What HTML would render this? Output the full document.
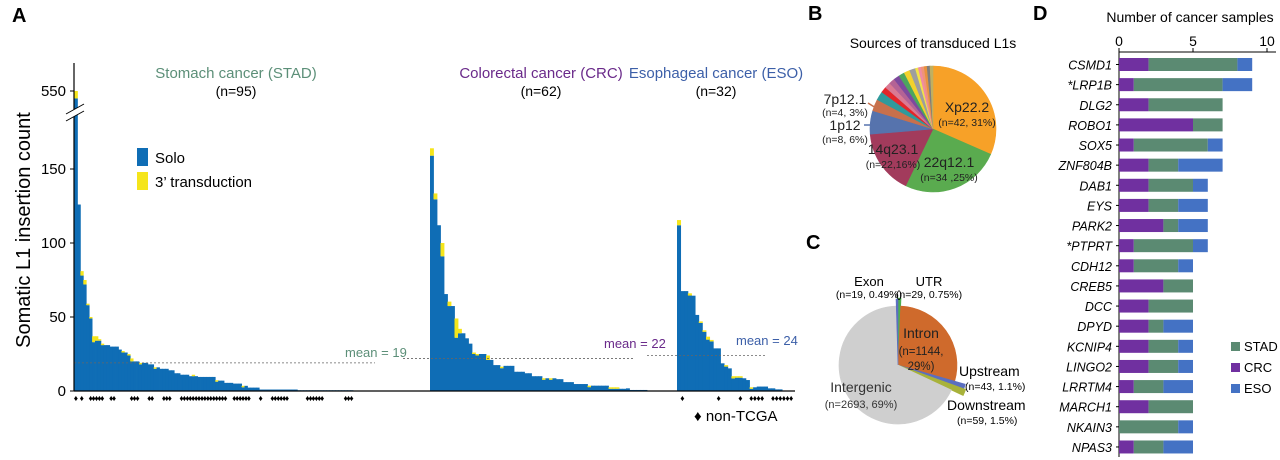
<!DOCTYPE html>
<html><head><meta charset="utf-8">
<style>
html,body{margin:0;padding:0;background:#fff;}
svg{display:block;font-family:"Liberation Sans",sans-serif;}
</style></head>
<body>
<svg id="fig" width="1280" height="460" viewBox="0 0 1280 460" xmlns="http://www.w3.org/2000/svg">
<g id="panelA">
<text x="12" y="22" font-size="20" font-weight="bold">A</text>
<text transform="translate(30,230) rotate(-90)" text-anchor="middle" font-size="20">Somatic L1 insertion count</text>
<text x="236" y="78" text-anchor="middle" font-size="15" fill="#5c8f78">Stomach  cancer (STAD)</text>
<text x="236" y="96" text-anchor="middle" font-size="14">(n=95)</text>
<text x="541" y="78" text-anchor="middle" font-size="15" fill="#6a2a8a">Colorectal cancer (CRC)</text>
<text x="541" y="96" text-anchor="middle" font-size="14">(n=62)</text>
<text x="716" y="78" text-anchor="middle" font-size="15" fill="#3c5fa8">Esophageal cancer (ESO)</text>
<text x="716" y="96" text-anchor="middle" font-size="14">(n=32)</text>
<g>
<rect x="137" y="148" width="11" height="18" fill="#0f6db5"/>
<text x="155" y="163" font-size="15">Solo</text>
<rect x="137" y="172" width="11" height="18" fill="#f5e51b"/>
<text x="155" y="187" font-size="15">3’ transduction</text>
</g>
<g id="barsA"></g>
<g id="axisA"></g>
<text x="694" y="421" font-size="15">♦ non-TCGA</text>
</g>
<g id="panelB">
<text x="808" y="20" font-size="20" font-weight="bold">B</text>
<text x="933" y="48" text-anchor="middle" font-size="14">Sources of transduced L1s</text>
</g>
<g id="panelC">
<text x="806" y="249" font-size="20" font-weight="bold">C</text>
</g>
<g id="panelD">
<text x="1033" y="20" font-size="20" font-weight="bold">D</text>
<text x="1190" y="22" text-anchor="middle" font-size="14">Number of cancer samples</text>
</g>
</svg>
<script>
const NS="http://www.w3.org/2000/svg";
// ---- Panel A data ----
const stadSolo=[545,126,78,72,58,49,33,34,34,31,31,31,30,30,30,28,26,26,24,20,20,20,18,19,19,18,18,15,16,15,15,15,14,14,12,12,11,11,11,10,10,10,9.5,9.5,9.5,9.5,9.5,9.5,6.3,7,7,5.5,5.5,5.5,5,5,5,2.5,3.5,2.3,2.3,2.3,2.3,1,1,1,1,1,1,1,1,1,1,1,1,1,0.5,0.5,0.5,0.5,0.5,0.5,0.5,0.5,0.5,0.5,0.5,0.5,0.5,0.5,0.5,0.5,0.5,0.5,0.5];
const stadTrans=[5,0,3,3,1,1,4,3,1,1,0,0,0,0,0,0,1,0,1,2,0,0,1,0,0,0,0,1,0,0,0,0,0,0,0,0,0,0,0,0,1,0,0,0,0,0,0,0,1,0,0,0,0,0,0,0,0,1,0,0,0,0,0,0,0,0,0,0,0,0,0,0,0,0,0,0,0,0,0,0,0,0,0,0,0,0,0,0,0,0,0,0,0,0,0];
const crcSolo=[159,129.5,112,91,65.5,57.4,57.4,36,39,39,35.6,32,25,24,25,25,21,21,17.5,17.5,15.4,17,17,17,13,13,13,12,12,10,10,10,7.6,8.6,7.6,8.6,8,8,6,6,6,4.7,4.7,4.7,4.7,2.6,3.6,3.6,3.6,3.6,3.6,1.5,1.5,1.5,1.5,1.5,1.8,0.7,0.7,0.7,0.7,0.7];
const crcTrans=[5,4,0,9,0,3,0,13,3,0,0,0,1,1,0,0,3,0,0,0,1,0,0,0,0,0,0,0,0,0,0,0,1,0,1,0,0,0,0,0,0,0,0,0,0,1,0,0,0,0,0,1,1,1,0,0,0,0,0,0,0,0];
const esoSolo=[112,67.5,67.5,64.5,64.4,51.4,46,40,34.7,33.5,28.8,28.8,18.7,16.5,15.3,8.5,9,9,8.6,7.4,1.5,2.5,3,3,3,1.8,1.8,1.1,1.1,0.3,0.3,0.3];
const esoTrans=[3.5,0,0,1.5,0,0,1,1,2,1,0,0,0,1,0,1.5,1,1,0,0,1,0,0,0,0,0,0,0,0,0,0,0];
const stadNonTcga=[0,2,5,6,7,8,9,12,13,19,20,21,25,26,30,31,32,36,37,38,39,40,41,42,43,44,45,46,47,48,49,50,51,54,55,56,57,58,59,63,67,68,69,70,71,72,79,80,81,82,83,84,92,93,94];
const crcNonTcga=[];
const esoNonTcga=[1,11,17,20,21,22,23,26,27,28,29,30,31];
const means=[19,22,24];
const meanLabels=["mean = 19","mean = 22","mean = 24"];
const yTicks=[0,50,100,150];
const yBreakTick=550;

const Y0=391, PX=1.48;
function yA(v){ return v>300 ? 91-(v-550)*PX : Y0-v*PX; }
const barsA=document.getElementById('barsA');
const axisA=document.getElementById('axisA');
function mk(tag,attrs,parent){const e=document.createElementNS(NS,tag);for(const k in attrs)e.setAttribute(k,attrs[k]);(parent||barsA).appendChild(e);return e;}

const groups=[
 {name:'stad',solo:stadSolo,trans:stadTrans,nt:stadNonTcga,x0:74.5,x1:353,col:'#5c8f78'},
 {name:'crc',solo:crcSolo,trans:crcTrans,nt:crcNonTcga,x0:430,x1:647,col:'#6a2a8a'},
 {name:'eso',solo:esoSolo,trans:esoTrans,nt:esoNonTcga,x0:677,x1:793,col:'#3c5fa8'}
];
groups.forEach(g=>{
  const w=(g.x1-g.x0)/g.solo.length;
  g.solo.forEach((s,i)=>{
    const x=g.x0+i*w;
    const r=mk('rect',{x:x.toFixed(2),y:yA(s).toFixed(2),width:(w+0.4).toFixed(2),height:(Y0-yA(s)).toFixed(2),fill:'#0f6db5'});
    
    
    const t=g.trans[i];
    if(t>0){
      const r2=mk('rect',{x:x.toFixed(2),y:yA(s+t).toFixed(2),width:(w+0.4).toFixed(2),height:(yA(s)-yA(s+t)).toFixed(2),fill:'#f5e51b'});
      
      
    }
  });
  g.nt.forEach(i=>{
    const t=mk('text',{x:(g.x0+(i+0.5)*w).toFixed(2),y:401,'font-size':8.5,'text-anchor':'middle'});
    t.textContent='♦';
    
    
  });
});
// mean lines
const meanSpans=[[74,375,345,357],[403,633,604,348],[647,767,736,345]];
means.forEach((m,i)=>{
  const sp=meanSpans[i];
  const l=mk('line',{x1:sp[0],x2:sp[1],y1:Y0-m*PX,y2:Y0-m*PX,stroke:'#666','stroke-width':0.8,'stroke-dasharray':'2,2'});
  
  
  const t=mk('text',{x:sp[2],y:sp[3],'font-size':13,fill:groups[i].col});
  t.textContent=meanLabels[i];
  
  
});
// axes
let ax=mk('line',{x1:74,x2:74,y1:63,y2:Y0,stroke:'#000','stroke-width':1.2},axisA);


ax=mk('line',{x1:74,x2:795,y1:Y0,y2:Y0,stroke:'#000','stroke-width':1.2},axisA);


yTicks.concat([yBreakTick]).forEach(v=>{
  const y=yA(v);
  const tk=mk('line',{x1:70,x2:74,y1:y,y2:y,stroke:'#000'},axisA);
  
  
  const t=mk('text',{x:66,y:y+5,'font-size':15,'text-anchor':'end'},axisA);
  t.textContent=v;
  
  
});
const brk=mk('g',{},axisA);


mk('polygon',{points:'66,114 84,104 84,111 66,121',fill:'#fff'},brk);
mk('line',{x1:66,y1:114,x2:84,y2:104,stroke:'#000','stroke-width':1},brk);
mk('line',{x1:66,y1:121,x2:84,y2:111,stroke:'#000','stroke-width':1},brk);

// ---- Panel B pie ----
const bValues=[42,34,22,8,4,3,2,2,2,2,2,2,2,1,1,1,1,1,1];
const bNames=['Xp22.2','22q12.1','14q23.1','1p12','7p12.1','s6','s7','s8','s9','s10','s11','s12','s13','s14','s15','s16','s17','s18','s19'];
const bColors=['#f7a128','#5aab4f','#a23b5c','#5673ad','#c8704c','#2f9a9c','#e3262a','#d97a94','#b46395','#7d4a9e','#4ca65f','#f2d22c','#9e9e9e','#f1e34a','#ef8ca4','#ef9479','#e8923e','#7e7e7e','#c0b060'];
function pie(parent,cx,cy,r,vals,cols,names,prefix,rOver){
  const tot=vals.reduce((a,b)=>a+b,0);let acc=0;
  vals.forEach((v,i)=>{
    const a0=acc/tot*2*Math.PI;acc+=v;const a1=acc/tot*2*Math.PI;
    const rr=(rOver&&rOver[i])||r;
    const p=[cx+rr*Math.sin(a0),cy-rr*Math.cos(a0),cx+rr*Math.sin(a1),cy-rr*Math.cos(a1)];
    const large=(a1-a0)>Math.PI?1:0;
    const e=document.createElementNS(NS,'path');
    e.setAttribute('d',`M${cx},${cy} L${p[0].toFixed(2)},${p[1].toFixed(2)} A${rr},${rr} 0 ${large} 1 ${p[2].toFixed(2)},${p[3].toFixed(2)} Z`);
    e.setAttribute('fill',cols[i]);
    e.setAttribute('stroke',cols[i]);
    e.setAttribute('stroke-width','0.6');
    
    
    parent.appendChild(e);
  });
}
const pB=document.getElementById('panelB');
pie(pB,933,129,63,bValues,bColors,bNames,'pie-b');
function txt(parent,x,y,s,size,name,anchor,extra){
  const t=document.createElementNS(NS,'text');
  t.setAttribute('x',x);t.setAttribute('y',y);t.setAttribute('font-size',size);
  if(anchor)t.setAttribute('text-anchor',anchor);
  if(extra)for(const k in extra)t.setAttribute(k,extra[k]);
  t.textContent=s;
  
  
  parent.appendChild(t);return t;
}
function ln(parent,x1,y1,x2,y2,col,name,w){
  const l=document.createElementNS(NS,'line');
  l.setAttribute('x1',x1);l.setAttribute('y1',y1);l.setAttribute('x2',x2);l.setAttribute('y2',y2);
  l.setAttribute('stroke',col);l.setAttribute('stroke-width',w||1.5);
  
  
  parent.appendChild(l);
}
txt(pB,967,112,'Xp22.2',14,'label-xp22','middle',{fill:'#222'});
txt(pB,967,126,'(n=42, 31%)',10.5,'label-xp22-n','middle',{fill:'#222'});
txt(pB,949,167,'22q12.1',14,'label-22q12','middle',{fill:'#222'});
txt(pB,949,181,'(n=34 ,25%)',10.5,'label-22q12-n','middle',{fill:'#222'});
txt(pB,893,154,'14q23.1',14,'label-14q23','middle',{fill:'#222'});
txt(pB,893,168,'(n=22,16%)',10.5,'label-14q23-n','middle',{fill:'#222'});
txt(pB,845,130,'1p12',14,'label-1p12','middle',{fill:'#222'});
txt(pB,845,143,'(n=8, 6%)',10.5,'label-1p12-n','middle',{fill:'#222'});
txt(pB,845,104,'7p12.1',14,'label-7p12','middle',{fill:'#222'});
txt(pB,845,116,'(n=4, 3%)',10.5,'label-7p12-n','middle',{fill:'#222'});
ln(pB,864,125,872,125,'#5673ad','leader-1p12');
ln(pB,868,103,876,108,'#c8704c','leader-7p12');

// ---- Panel C pie ----
const cValues=[29,1144,43,59,2693,19];
const cNames=['UTR','Intron','Upstream','Downstream','Intergenic','Exon'];
const cColors=['#4caf50','#cf6a2c','#5b6fc0','#a8b23a','#cfcfcf','#5b6fc0'];
const pC=document.getElementById('panelC');
pie(pC,898,365,59,cValues,cColors,cNames,'pie-c',[67,0,70,72,0,66]);
txt(pC,869,286,'Exon',13,'label-exon','middle');
txt(pC,869,298,'(n=19, 0.49%)',10.5,'label-exon-n','middle');
txt(pC,929,286,'UTR',13,'label-utr','middle');
txt(pC,929,298,'(n=29, 0.75%)',10.5,'label-utr-n','middle');
txt(pC,921,338,'Intron',14,'label-intron','middle',{fill:'#222'});
txt(pC,921,355,'(n=1144,',11.5,'label-intron-n','middle',{fill:'#222'});
txt(pC,921,370,'29%)',11.5,'label-intron-pct','middle',{fill:'#222'});
txt(pC,959,376,'Upstream',14,'label-upstream','start');
txt(pC,965,390,'(n=43, 1.1%)',10.5,'label-upstream-n','start');
txt(pC,947,410,'Downstream',14,'label-downstream','start');
txt(pC,957,424,'(n=59, 1.5%)',10.5,'label-downstream-n','start');
txt(pC,861,392,'Intergenic',14,'label-intergenic','middle',{fill:'#333'});
txt(pC,861,408,'(n=2693, 69%)',11,'label-intergenic-n','middle',{fill:'#333'});

// ---- Panel D stacked bars ----
const dGenes=['CSMD1','*LRP1B','DLG2','ROBO1','SOX5','ZNF804B','DAB1','EYS','PARK2','*PTPRT','CDH12','CREB5','DCC','DPYD','KCNIP4','LINGO2','LRRTM4','MARCH1','NKAIN3','NPAS3'];
const dCRC=[2,1,2,5,1,2,2,2,3,1,1,3,2,2,2,2,1,2,0,1];
const dSTAD=[6,6,5,2,5,2,3,2,1,4,3,2,3,1,2,2,2,3,4,2];
const dESO=[1,2,0,0,1,3,1,2,2,1,1,0,0,2,1,1,2,0,1,2];
const dTicks=[0,5,10];
const pD=document.getElementById('panelD');
const DX0=1119, DPX=14.8;
function xD(v){return DX0+v*DPX;}
function yD(i){return 64.5+i*20.13;}
ln(pD,DX0,52,1276,52,'#000','x-axis-line-d',1);
ln(pD,DX0,52,DX0,457,'#000','y-axis-line-d',1);
dTicks.forEach(v=>{
  ln(pD,xD(v),48,xD(v),52,'#000','x-tick-d',1);
  txt(pD,xD(v),46,String(v),14,'x-tick-label-d','middle');
});
const segCols={crc:'#7030a0',stad:'#5b8a72',eso:'#4472c4'};
dGenes.forEach((g,i)=>{
  const y=yD(i);
  txt(pD,1112,y+5,g,12.5,'gene-label','end',{'font-style':'italic'});
  ln(pD,1116,y,DX0,y,'#000','y-tick-d',1);
  let acc=0;
  [['crc',dCRC[i]],['stad',dSTAD[i]],['eso',dESO[i]]].forEach(([k,v])=>{
    if(v>0){
      const r=document.createElementNS(NS,'rect');
      r.setAttribute('x',xD(acc));r.setAttribute('y',y-6.5);
      r.setAttribute('width',v*DPX);r.setAttribute('height',13);
      r.setAttribute('fill',segCols[k]);
      
      
      pD.appendChild(r);
    }
    acc+=v;
  });
});
[['STAD','stad',351],['CRC','crc',372],['ESO','eso',393]].forEach(([lab,k,y])=>{
  const r=document.createElementNS(NS,'rect');
  r.setAttribute('x',1231);r.setAttribute('y',y-9);r.setAttribute('width',9);r.setAttribute('height',9);
  r.setAttribute('fill',segCols[k]);
  
  
  pD.appendChild(r);
  txt(pD,1244,y,lab,13,'legend-label-'+k,'start');
});
</script>
</body></html>
